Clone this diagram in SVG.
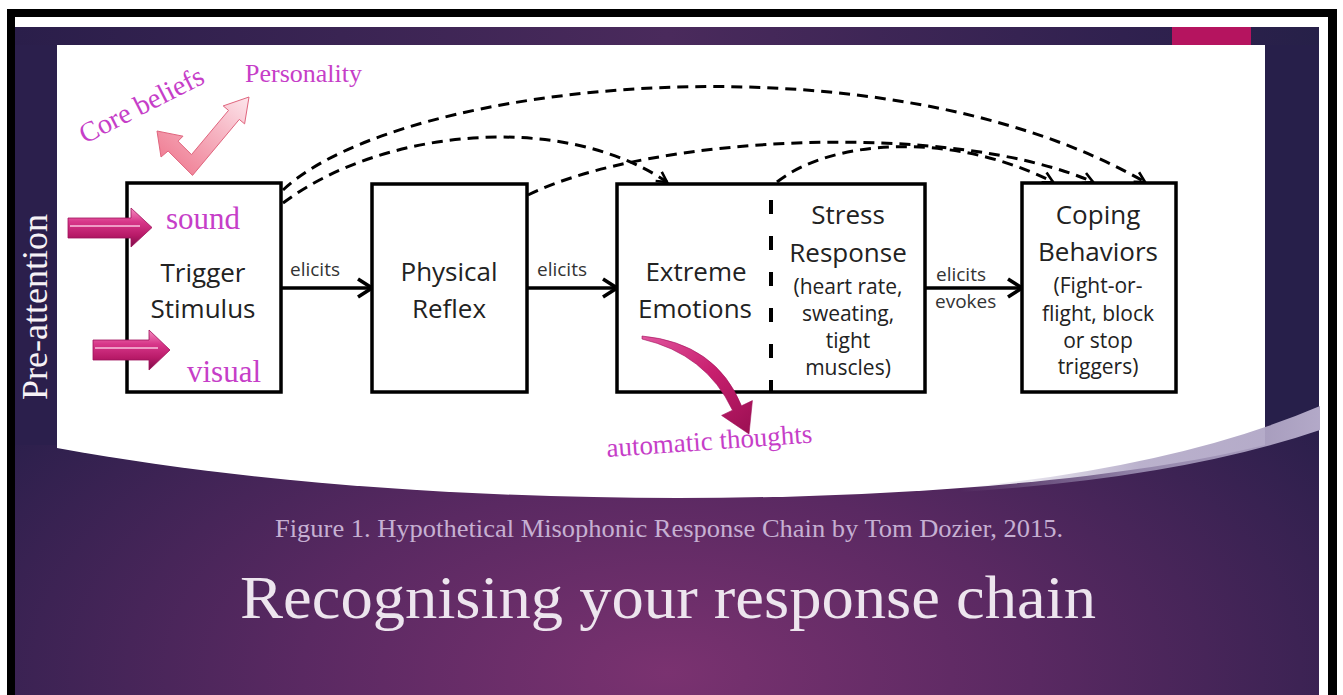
<svg xmlns="http://www.w3.org/2000/svg" width="1343" height="695" viewBox="0 0 1343 695">
<defs>
<style>
.box{fill:#fff;stroke:#000;stroke-width:3.5}
.t{font-family:"Open Sans","Liberation Sans",sans-serif;font-size:26px;fill:#222;text-anchor:middle}
.s{font-family:"Open Sans","Liberation Sans",sans-serif;font-size:21px;fill:#222;text-anchor:middle}
.lab{font-family:"Open Sans","Liberation Sans",sans-serif;font-size:19px;fill:#333}
.pk{font-family:"Liberation Serif","Times New Roman",serif;fill:#c63ec8}
.dash{fill:none;stroke:#000;stroke-width:3;stroke-dasharray:11 7;marker-end:url(#dh)}
.solid{fill:none;stroke:#000;stroke-width:3.5;marker-end:url(#sh)}
</style>
<radialGradient id="bg" cx="0.5" cy="0.95" r="0.62">
<stop offset="0" stop-color="#7a3270"/>
<stop offset="0.45" stop-color="#5a2962"/>
<stop offset="1" stop-color="#2a1f4b"/>
</radialGradient>
<linearGradient id="top" x1="0" y1="0" x2="1" y2="0">
<stop offset="0" stop-color="#2a1e4a"/>
<stop offset="0.5" stop-color="#4a2a5c"/>
<stop offset="0.85" stop-color="#30214f"/>
<stop offset="1" stop-color="#262048"/>
</linearGradient>
<linearGradient id="sw" x1="0" y1="0" x2="1" y2="0">
<stop offset="0" stop-color="#a99ec0" stop-opacity="0"/>
<stop offset="0.5" stop-color="#a99ec0" stop-opacity="0.8"/>
<stop offset="1" stop-color="#b3a9c8"/>
</linearGradient>
<linearGradient id="blk" x1="0" y1="0" x2="0" y2="1">
<stop offset="0" stop-color="#f48cc0"/>
<stop offset="0.35" stop-color="#d8378a"/>
<stop offset="0.7" stop-color="#b81a68"/>
<stop offset="1" stop-color="#7d0c48"/>
</linearGradient>
<linearGradient id="chk" x1="0" y1="1" x2="1" y2="0">
<stop offset="0" stop-color="#ee7088"/>
<stop offset="0.6" stop-color="#f6b4c2"/>
<stop offset="1" stop-color="#fde6ec"/>
</linearGradient>
<linearGradient id="cur" x1="0" y1="0" x2="1" y2="1">
<stop offset="0" stop-color="#e0559e"/>
<stop offset="0.5" stop-color="#c81f6e"/>
<stop offset="1" stop-color="#9a0f52"/>
</linearGradient>
<marker id="dh" viewBox="0 0 14 14" refX="12" refY="7" markerWidth="14" markerHeight="14" markerUnits="userSpaceOnUse" orient="auto">
<path d="M2,1.5 L12,7 L2,12.5" fill="none" stroke="#000" stroke-width="2.6"/>
</marker>
<marker id="sh" viewBox="0 0 20 22" refX="17" refY="11" markerWidth="20" markerHeight="22" markerUnits="userSpaceOnUse" orient="auto">
<path d="M3,2 L17,11 L3,20" fill="none" stroke="#000" stroke-width="3.6"/>
</marker>
</defs>

<rect width="1343" height="695" fill="#fff"/>
<rect x="7" y="9" width="1330" height="700" fill="#000"/>
<rect x="15" y="17" width="1313" height="690" fill="#fff"/>
<rect x="15" y="27" width="1304" height="680" fill="url(#bg)"/>
<rect x="15" y="27" width="1304" height="18" fill="url(#top)"/>
<rect x="1172" y="27" width="79" height="18" fill="#b5145f"/>
<rect x="1265" y="45" width="54" height="380" fill="#271f4a"/>
<rect x="15" y="45" width="42" height="400" fill="#2b1f4c"/>

<text x="47" y="307" transform="rotate(-90 47 307)" font-family="Liberation Serif, Times New Roman, serif" font-size="36" fill="#f6f2f6" text-anchor="middle">Pre-attention</text>

<path d="M57 45 H1265 V445 C1000 510 450 520 57 448 Z" fill="#fff"/>
<path d="M960 488 Q1180 466 1320 406 L1320 430 Q1180 478 960 492 Z" fill="url(#sw)"/>

<g id="connectors">
<path class="solid" d="M281 288 H372"/>
<path class="solid" d="M527 288 H617"/>
<path class="solid" d="M925 288 H1022"/>
<path class="dash" d="M283 190 C400 80 880 30 1145 182"/>
<path class="dash" d="M283 203 C380 130 560 110 667 182"/>
<path class="dash" d="M528 195 C650 135 950 120 1093 182"/>
<path class="dash" d="M777 182 C830 140 950 130 1053 182"/>
<text class="lab" x="290" y="276">elicits</text>
<text class="lab" x="537" y="276">elicits</text>
<text class="lab" x="936" y="281">elicits</text>
<text class="lab" x="935" y="308">evokes</text>
</g>

<g id="node-trigger">
<rect class="box" x="127" y="183" width="154" height="209"/>
<text class="pk" x="203" y="229" font-size="31" text-anchor="middle">sound</text>
<text class="t" x="203" y="282">Trigger</text>
<text class="t" x="203" y="318">Stimulus</text>
<text class="pk" x="224" y="382" font-size="31" text-anchor="middle">visual</text>
</g>

<g id="node-reflex">
<rect class="box" x="372" y="184" width="155" height="208"/>
<text class="t" x="449" y="281">Physical</text>
<text class="t" x="449" y="318">Reflex</text>
</g>

<g id="node-emotions">
<rect class="box" x="617" y="184" width="308" height="208"/>
<line x1="771" y1="200" x2="771" y2="392" stroke="#000" stroke-width="4" stroke-dasharray="14 22"/>
<text class="t" x="696" y="281">Extreme</text>
<text class="t" x="695" y="318">Emotions</text>
<text class="t" x="848" y="224">Stress</text>
<text class="t" x="848" y="262">Response</text>
<text class="s" x="848" y="294">(heart rate,</text>
<text class="s" x="848" y="321">sweating,</text>
<text class="s" x="848" y="348">tight</text>
<text class="s" x="848" y="375">muscles)</text>
</g>

<g id="node-coping">
<rect class="box" x="1022" y="183" width="154" height="209"/>
<text class="t" x="1098" y="224">Coping</text>
<text class="t" x="1098" y="261">Behaviors</text>
<text class="s" x="1098" y="293">(Fight-or-</text>
<text class="s" x="1098" y="321">flight, block</text>
<text class="s" x="1098" y="348">or stop</text>
<text class="s" x="1098" y="374">triggers)</text>
</g>

<g id="pink-arrows">
<path d="M68 218 H131 V208 L152 227.5 L131 247 V238 H68 Z" fill="url(#blk)" stroke="#a0105a" stroke-width="0.8"/>
<path d="M70 226 H140" stroke="#f7b8d8" stroke-width="2" opacity="0.8"/>
<path d="M93 340 H149 V330 L170 350 L149 370 V360 H93 Z" fill="url(#blk)" stroke="#a0105a" stroke-width="0.8"/>
<path d="M95 348 H158" stroke="#f7b8d8" stroke-width="2" opacity="0.8"/>
<path d="M157 131 L183 136.2 L178 141.2 L191.5 154.6 L228.5 110.4 L223.2 105.9 L249 97 L244.6 123.9 L239.3 119.4 L192.5 175.4 L168.1 151 L161 157 Z" fill="url(#chk)" stroke="#e0657e" stroke-width="1"/>
<path d="M642 336 Q716 343 741.5 405.8 L752.4 400.6 L749 434 L721.6 415.4 L732.5 410.2 Q706 354 642 339 Z" fill="url(#cur)" stroke="#a0105a" stroke-width="0.6"/>
</g>

<g id="labels">
<text class="pk" x="85" y="144" font-size="28" transform="rotate(-27 85 144)">Core beliefs</text>
<text class="pk" x="245" y="82" font-size="26">Personality</text>
<text class="pk" x="607" y="457" font-size="27" transform="rotate(-4 607 457)">automatic thoughts</text>
</g>

<text x="669" y="537" font-family="Liberation Serif, Times New Roman, serif" font-size="25" fill="#c6b0d2" text-anchor="middle" textLength="788" lengthAdjust="spacingAndGlyphs">Figure 1. Hypothetical Misophonic Response Chain by Tom Dozier, 2015.</text>
<text x="668" y="618" font-family="Liberation Serif, Times New Roman, serif" font-size="62" fill="#ede5ee" text-anchor="middle" textLength="856" lengthAdjust="spacingAndGlyphs">Recognising your response chain</text>
</svg>
